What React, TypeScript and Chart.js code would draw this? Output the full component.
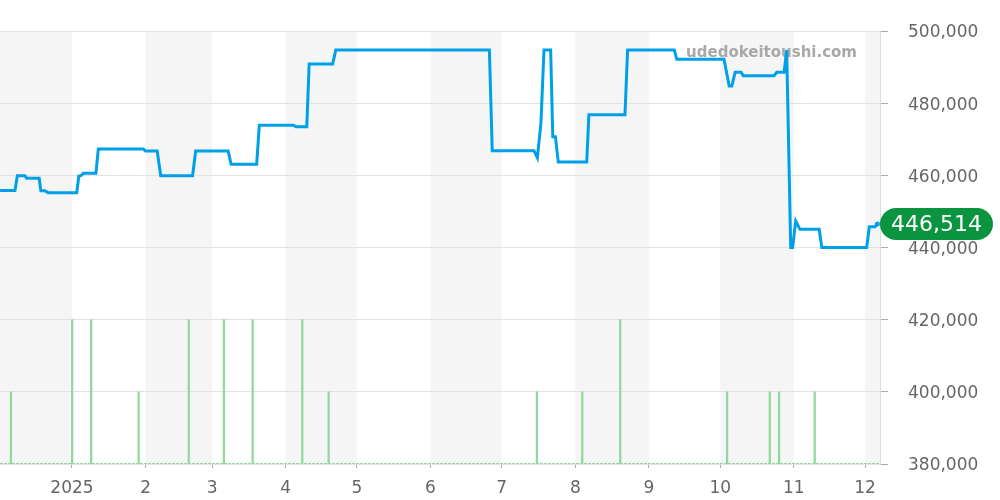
import React, { useEffect, useRef } from 'react';
import { Chart, registerables } from 'chart.js';

Chart.register(...registerables);

// Days counted from 2025-01-01 (day 0)
const priceDays = [
  -30.3, -24, -23, -19.8, -19.1, -13.8, -13.1, -11.4, -10, 2, 2.9, 3.8, 4.8, 10.1, 11.1, 30, 31, 35.9,
  37.4, 50.8, 52.1, 65.8, 67, 77.8, 78.9, 93.2, 94.3, 98.9, 99.9, 109.8, 111.1, 175.8, 177, 194.6,
  196, 197.5, 198.8, 201.6, 202.5, 203.6, 204.8, 216.8, 217.7, 232.9, 234, 253.7, 254.7, 274.6,
  276.8, 277.9, 279.3, 281.8, 282.7, 295.7, 296.8, 299.9, 301, 302.7, 303.5, 304.8, 306.6, 314.7,
  315.8, 334.7, 335.8, 338.2, 339.2,
];
const priceValues = [
  455800, 455800, 459900, 459900, 459200, 459200, 455700, 455700, 455200, 455200, 459800, 459900,
  460560, 460560, 467300, 467300, 466750, 466750, 459900, 459900, 466750, 466750, 463100, 463100,
  473870, 473870, 473480, 473480, 490850, 490850, 494730, 494730, 466830, 466830, 464890, 474420,
  494730, 494730, 470710, 470710, 463700, 463700, 476800, 476800, 494730, 494730, 492160, 492160,
  484760, 484760, 488550, 488550, 487610, 487610, 488550, 488550, 494730, 440000, 440000, 447340,
  445040, 445040, 440000, 440000, 445760, 445760, 446514,
];

const volumeDays = [-25.7, 0.1, 8.1, 28.1, 49.2, 64, 76.1, 97, 108.1, 195.8, 214.9, 230.9, 275.9, 293.9, 297.8, 312.8];
const volumeCounts = [1, 2, 2, 1, 2, 2, 2, 2, 1, 1, 1, 2, 1, 1, 1, 1];

const monthStarts = [0, 31, 59, 90, 120, 151, 181, 212, 243, 273, 304, 334];
const monthLabels = ['2025', '2', '3', '4', '5', '6', '7', '8', '9', '10', '11', '12'];
const shadedStarts = [-31, 31, 90, 151, 212, 273, 334];
const shadedEnds = [0, 59, 120, 181, 243, 304, 365];

const yTicks = [380000, 400000, 420000, 440000, 460000, 480000, 500000];
const xMin = -30.3;
const xMax = 340.3;
const watermark = 'udedokeitoushi.com';

const FONT = 'DejaVu Sans';

const bandsPlugin = {
  id: 'bands',
  beforeDraw(chart: any) {
    const { ctx, chartArea, scales } = chart;
    const x = scales.x;
    ctx.save();
    ctx.fillStyle = '#f5f5f5';
    shadedStarts.forEach((s, i) => {
      const l = Math.max(x.getPixelForValue(s), chartArea.left);
      const r = Math.min(x.getPixelForValue(shadedEnds[i]), chartArea.right);
      if (r > l) ctx.fillRect(l, chartArea.top, r - l, chartArea.bottom - chartArea.top);
    });
    ctx.restore();
  },
  beforeDatasetsDraw(chart: any) {
    const { ctx, chartArea } = chart;
    ctx.save();
    ctx.font = `bold 15px "${FONT}"`;
    ctx.fillStyle = '#a8a8a8';
    ctx.textAlign = 'right';
    ctx.textBaseline = 'middle';
    ctx.fillText(watermark, chartArea.right - 23, chartArea.top + 22);
    ctx.restore();
  },
  afterDraw(chart: any) {
    const { ctx, chartArea, scales } = chart;
    const last = priceValues[priceValues.length - 1];
    const y = scales.y.getPixelForValue(last);
    const text = last.toLocaleString('en-US');
    ctx.save();
    ctx.font = `22px "${FONT}"`;
    const w = ctx.measureText(text).width + 22;
    const h = 32;
    const left = chartArea.right;
    const r = h / 2;
    ctx.fillStyle = '#0b9440';
    ctx.beginPath();
    ctx.moveTo(left + r, y - r);
    ctx.lineTo(left + w - r, y - r);
    ctx.arc(left + w - r, y, r, -Math.PI / 2, Math.PI / 2);
    ctx.lineTo(left + r, y + r);
    ctx.arc(left + r, y, r, Math.PI / 2, (3 * Math.PI) / 2);
    ctx.closePath();
    ctx.fill();
    ctx.fillStyle = '#ffffff';
    ctx.textAlign = 'center';
    ctx.textBaseline = 'middle';
    ctx.fillText(text, left + w / 2, y + 1);
    ctx.restore();
  },
};

export default function App() {
  const ref = useRef<HTMLCanvasElement>(null);
  useEffect(() => {
    const chart = new Chart(ref.current as HTMLCanvasElement, {
      type: 'line',
      data: {
        datasets: [
          {
            type: 'line',
            data: priceDays.map((d, i) => ({ x: d, y: priceValues[i] })),
            borderColor: '#00a0e9',
            backgroundColor: '#00a0e9',
            borderWidth: 3,
            pointRadius: (c: any) => (c.dataIndex === priceDays.length - 1 ? 2.5 : 0),
            pointBorderWidth: 0,
            tension: 0,
            yAxisID: 'y',
            order: 0,
          } as any,
          {
            type: 'bar',
            data: volumeDays.map((d, i) => ({ x: d, y: volumeCounts[i] })),
            backgroundColor: '#8fd99a',
            borderWidth: 0,
            barThickness: 1.6,
            yAxisID: 'y2',
            order: 1,
          } as any,
          {
            type: 'line',
            data: [
              { x: xMin, y: 0 },
              { x: xMax, y: 0 },
            ],
            borderColor: '#8fd99a',
            borderWidth: 2,
            borderDash: [3, 1],
            pointRadius: 0,
            yAxisID: 'y2',
            order: 2,
          } as any,
        ],
      },
      options: {
        responsive: false,
        devicePixelRatio: 1,
        animation: false,
        layout: { autoPadding: false, padding: { top: 31, left: 0, right: 0, bottom: 0 } },
        plugins: { legend: { display: false }, tooltip: { enabled: false } },
        scales: {
          x: {
            type: 'linear',
            min: xMin,
            max: xMax,
            offset: false,
            afterBuildTicks: (s: any) => {
              s.ticks = monthStarts.map((v) => ({ value: v }));
            },
            afterFit: (s: any) => {
              s.height = 36;
              s.paddingLeft = 0;
              s.paddingRight = 0;
            },
            ticks: {
              autoSkip: false,
              maxRotation: 0,
              padding: 10,
              color: '#666',
              font: { family: FONT, size: 17 },
              callback: (v: any) => {
                const i = monthStarts.indexOf(Number(v));
                return i >= 0 ? monthLabels[i] : '';
              },
            },
            grid: { drawOnChartArea: false, tickLength: 4, tickColor: '#aaa', offset: false },
            border: { display: false },
          },
          y: {
            position: 'right',
            min: 380000,
            max: 500000,
            afterBuildTicks: (s: any) => {
              s.ticks = yTicks.map((v) => ({ value: v }));
            },
            afterFit: (s: any) => {
              s.width = 120;
            },
            ticks: {
              padding: 20,
              labelOffset: 2,
              color: '#666',
              font: { family: FONT, size: 17 },
              callback: (v: any) => Number(v).toLocaleString('en-US'),
            },
            grid: { color: '#e2e2e2', tickLength: 8, tickColor: '#aaa' },
            border: { color: '#dddddd' },
          },
          y2: {
            display: false,
            min: 0,
            max: 6,
          },
        },
      } as any,
      plugins: [bandsPlugin],
    });
    return () => chart.destroy();
  }, []);
  return (
    <div style={{ position: 'absolute', left: 0, top: 0, width: 1000, height: 500 }}>
      <canvas ref={ref} width={1000} height={500} style={{ display: 'block' }} />
    </div>
  );
}
